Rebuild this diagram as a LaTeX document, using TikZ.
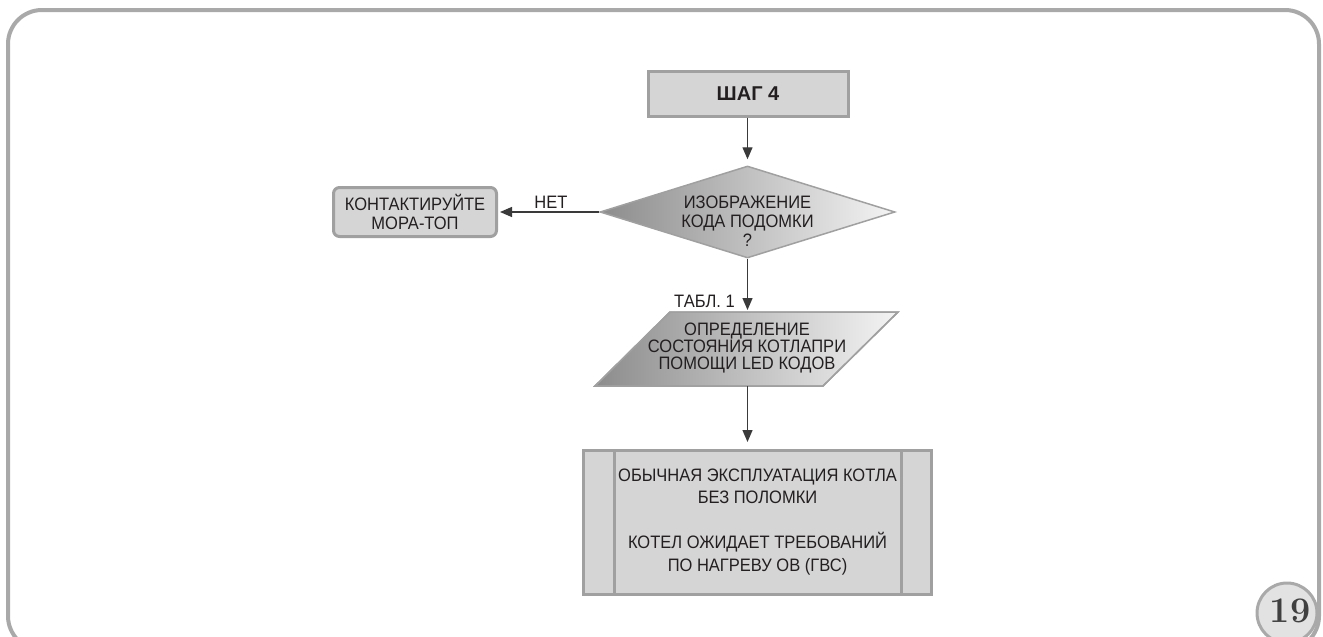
\documentclass[tikz,border=0pt]{standalone}
\usepackage{fontspec}
\setsansfont{Liberation Sans}
\newfontfamily\condsans[FakeStretch=0.917]{Liberation Sans}
\usetikzlibrary{arrows.meta,shapes.geometric}
\definecolor{framecol}{HTML}{A9A9A9}
\definecolor{boxfill}{HTML}{D5D5D5}
\definecolor{boxline}{HTML}{A0A0A0}
\definecolor{txtcol}{HTML}{231F20}
\definecolor{arrcol}{HTML}{3A3A3A}
\definecolor{shadedark}{HTML}{8C8C8C}
\definecolor{shadelight}{HTML}{F4F4F4}
\definecolor{numfill}{HTML}{E2E2E2}
\definecolor{numtext}{HTML}{404040}
\begin{document}
\begin{tikzpicture}[x=1pt,y=-1pt,
  box/.style={draw=boxline, line width=3pt, fill=boxfill, inner sep=0pt},
  lbl/.style={text=txtcol, font=\condsans\fontsize{18}{19}\selectfont, align=center, inner sep=0pt},
  conn/.style={draw=arrcol, line width=1.3pt, -{Triangle[length=12pt,width=10pt]}},
  shadebox/.style={draw=boxline, line width=1.5pt, left color=shadedark, right color=shadelight},
]
\useasboundingbox (0,0) rectangle (1323,637);
\clip (0,0) rectangle (1323,637);
% page frame
\draw[framecol, line width=4pt, rounded corners=34pt] (8,10) rectangle (1319,650);

% step box
\node[box, minimum width=200pt, minimum height=45pt, text=txtcol,
      font=\sffamily\bfseries\fontsize{20}{22}\selectfont] (step) at (748,93.5) {ШАГ 4};

% decision
\node[diamond, shadebox, aspect=3.2, minimum width=295pt, minimum height=92pt, inner sep=0pt] (dec) at (747.5,212) {};
\node[lbl, font=\condsans\fontsize{18}{19}\selectfont] (dectxt) at (747.5,221) {ИЗОБРАЖЕНИЕ\\КОДА ПОДОМКИ\\?};

% contact box
\node[box, rounded corners=6pt, minimum width=163pt, minimum height=49pt, align=center,
      text=txtcol, font=\condsans\fontsize{18}{19}\selectfont] (contact) at (415,212) {КОНТАКТИРУЙТЕ\\МОРА-ТОП};

% parallelogram
\coordinate (ptop) at (747.5,312);
\coordinate (pbot) at (747.5,386);
\shade[shadebox] (595,386) -- (670,312) -- (898,312) -- (823,386) -- cycle;
\draw[boxline, line width=1.5pt] (595,386) -- (670,312) -- (898,312) -- (823,386) -- cycle;
\node[lbl, font=\condsans\fontsize{18}{16.8}\selectfont] (partxt) at (747,348) {ОПРЕДЕЛЕНИЕ\\СОСТОЯНИЯ КОТЛАПРИ\\ПОМОЩИ LED КОДОВ};

% final box
\node[box, minimum width=348pt, minimum height=144pt] (final) at (757.5,522.5) {};
\draw[boxline, line width=3pt] (final.north west) ++(32,0) coordinate (fl1) -- (fl1 |- final.south);
\draw[boxline, line width=3pt] (final.north east) ++(-32,0) coordinate (fr1) -- (fr1 |- final.south);
\node[lbl, font=\condsans\fontsize{18}{22.5}\selectfont] (finaltxt) at (757.5,522) {ОБЫЧНАЯ ЭКСПЛУАТАЦИЯ КОТЛА\\БЕЗ ПОЛОМКИ\\[22.5pt]КОТЕЛ ОЖИДАЕТ ТРЕБОВАНИЙ\\ПО НАГРЕВУ ОВ (ГВС)};

% connectors
\draw[conn, shorten >=6pt] (step.south -| dec.north) -- (dec.north);
\draw[conn, shorten >=2pt] (dec.west) -- (dec.west -| contact.east);
\node[lbl] (no) at (551,202) {НЕТ};
\draw[conn, shorten >=2pt] (dec.south) -- (ptop);
\node[lbl, anchor=east] (tabl) at (735,301) {ТАБЛ. 1};
\draw[conn, shorten >=7pt] (pbot) -- (pbot |- final.north);

% page number
\node[circle, draw=framecol, fill=numfill, line width=3pt, minimum size=60pt, inner sep=0pt] (pg) at (1287,613) {};
\node[text=numtext, font=\bfseries\fontsize{36}{36}\selectfont, inner sep=0pt] (pgnum) at (1290,611) {19};
\end{tikzpicture}
\end{document}
